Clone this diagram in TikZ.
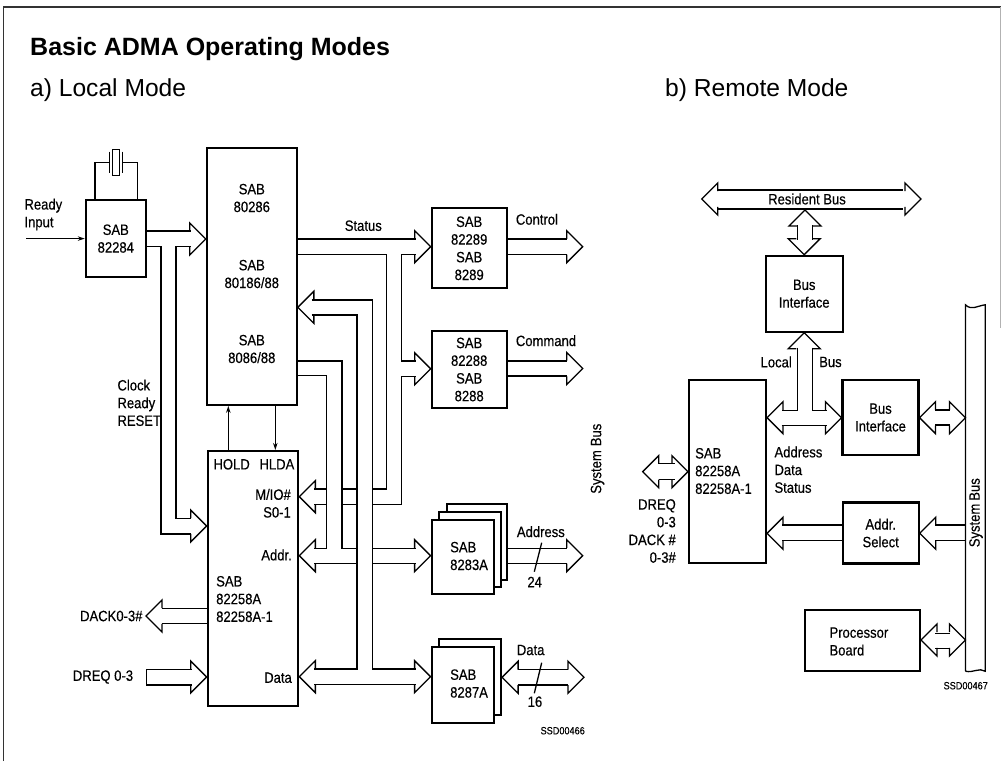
\documentclass[tikz,border=0pt]{standalone}
\usepackage{fontspec}
\setmainfont{Liberation Sans}
\newfontfamily\din[FakeStretch=0.87,FakeBold=0.35]{Liberation Sans}
\usetikzlibrary{arrows.meta,calc}

\begin{document}
\begin{tikzpicture}[
  x=10pt, y=10pt,
  font=\din\fontsize{15}{17.7}\selectfont,
  box/.style={draw, line width=2.1pt, fill=white, inner sep=0pt, align=center},
  lbl/.style={inner sep=0pt, align=left},
  small/.style={inner sep=0pt, font=\din\fontsize{10.5}{12}\selectfont},
  head/.style={font=\fontsize{24.6}{28}\selectfont, inner sep=0pt, anchor=base west},
  wire/.style={line width=1.3pt, line join=miter},
  bushead/.pic={\draw[wire] (-1.6,0.78) -- (-1.6,1.6) -- (0,0) -- (-1.6,-1.6) -- (-1.6,-0.78);},
  >={Stealth[length=7pt,width=4.5pt]}
]
\useasboundingbox (0,0) rectangle (100.1,-76.1);

% Frame
\draw[line width=1.4pt, black!80] (0.35,-76.1) -- (0.35,-0.7) -- (100.05,-0.7);
\draw[line width=0.8pt, gray!60] (100.05,-0.7) -- (100.05,-32.8);

% Titles
\node[head, font=\bfseries\fontsize{25}{28}\selectfont] (title) at (3,-5.5) {Basic ADMA Operating Modes};
\node[head] (local) at (3,-9.67) {a) Local Mode};
\node[head] (remote) at (66.5,-9.67) {b) Remote Mode};

% Local mode blocks
\node[box, minimum width=60pt, minimum height=77pt] (clk) at (11.58,-23.86) {SAB\\82284};
\node[box, minimum width=90pt, minimum height=257pt] (cpu) at (25.18,-27.63) {};
\node[lbl, align=center] (cpu1) at (25.18,-19.8) {SAB\\80286};
\node[lbl, align=center] (cpu2) at (25.18,-27.4) {SAB\\80186/88};
\node[lbl, align=center] (cpu3) at (25.18,-34.9) {SAB\\8086/88};
\node[box, minimum width=90.6pt, minimum height=255pt] (dma) at (25.3,-57.85) {};
\node[box, minimum width=75pt, minimum height=80pt] (ctrl) at (46.92,-24.83) {SAB\\82289\\SAB\\8289};
\node[box, minimum width=75pt, minimum height=77.6pt] (cmd) at (46.92,-36.95) {SAB\\82288\\SAB\\8288};

% Latches and transceivers
\node[box, minimum width=60.6pt, minimum height=76pt] (addr3) at (47.7,-54.2) {};
\node[box, minimum width=61.7pt, minimum height=75pt] (addr2) at (47.02,-54.92) {};
\node[box, minimum width=62.3pt, minimum height=74pt] (addr1) at (46.28,-55.7) {};
\node[lbl, anchor=west] (addr1t) at (45,-55.6) {SAB\\8283A};
\node[box, minimum width=61.7pt, minimum height=76pt] (data2) at (47.02,-67.7) {};
\node[box, minimum width=62.3pt, minimum height=75.4pt] (data1) at (46.28,-68.5) {};
\node[lbl, anchor=west] (data1t) at (45,-68.35) {SAB\\8287A};

% Labels, local mode
\node[lbl, anchor=west] (rdy) at (2.43,-21.45) {Ready\\Input};
\node[lbl, anchor=west] (crr) at (11.73,-40.28) {Clock\\Ready\\RESET};
\node[lbl] (status) at (36.33,-22.57) {Status};
\node[lbl, anchor=west] (control) at (51.57,-21.93) {Control};
\node[lbl, anchor=west] (command) at (51.57,-34.07) {Command};
\node[lbl, anchor=west] (address) at (51.67,-53.17) {Address};
\node[lbl, anchor=west] (datat) at (51.67,-65) {Data};
\node[lbl] (n24) at (53.47,-58.2) {24};
\node[lbl] (n16) at (53.5,-70.17) {16};
\node[lbl, anchor=west] (hold) at (21.33,-46.43) {HOLD};
\node[lbl, anchor=west] (hlda) at (25.93,-46.43) {HLDA};
\node[lbl, anchor=east, align=right] (mio) at (29.1,-50.33) {M/IO\#\\S0-1};
\node[lbl, anchor=east] (addrp) at (29.2,-55.5) {Addr.};
\node[lbl, anchor=west] (dmat) at (21.6,-59.9) {SAB\\82258A\\82258A-1};
\node[lbl, anchor=east] (datap) at (29.2,-67.77) {Data};
\node[lbl, anchor=east] (dack) at (14.27,-61.6) {DACK0-3\#};
\node[lbl, anchor=west] (dreq) at (7.27,-67.7) {DREQ 0-3};
\node[small, anchor=east] (ssda) at (58.5,-73.07) {SSD00466};
\node[lbl, rotate=90] (sysl) at (59.75,-45.87) {System\hspace{4pt}Bus};

% Crystal
\node[draw, line width=1.3pt, minimum width=6.6pt, minimum height=26pt, inner sep=0pt] (xtal) at (11.6,-16.23) {};
\coordinate (xl) at (10.93,-16.23);
\coordinate (xr) at (12.27,-16.23);
\draw[wire] (xl) ++(0,1.08) -- ++(0,-2.16);
\draw[wire] (xr) ++(0,1.08) -- ++(0,-2.16);
\draw[wire] (clk.north -| 9.5,0) |- (xl);
\draw[wire] (clk.north -| 13.73,0) |- (xr);
\coordinate (rdyin) at (2.6,-23.86);
\draw[wire, ->] (rdyin) -- (clk.west);

% Clock bus
\draw[wire] (clk.east |- 0,-23.1) -- (19.07,-23.1);
\draw[wire] (clk.east |- 0,-24.67) -- (16.1,-24.67) |- (19.07,-53.4);
\draw[wire] (19.07,-24.67) -- (17.6,-24.67) |- (19.07,-51.83);
\pic at (cpu.west |- 0,-23.9) {bushead};
\pic at (dma.west |- 0,-52.6) {bushead};

% Hold / hlda
\draw[wire, ->] (dma.north -| 22.83,0) -- (cpu.south -| 22.83,0);
\draw[wire, ->] (cpu.south -| 27.53,0) -- (dma.north -| 27.53,0);

% Status bus
\draw[wire] (cpu.east |- 0,-23.9) -- (41.57,-23.9);
\draw[wire] (cpu.east |- 0,-25.43) -- (38.65,-25.43) -- (38.65,-48.9) -- (37.23,-48.9);
\draw[wire] (41.57,-25.43) -- (40.17,-25.43) -- (40.17,-36.1) -- (41.57,-36.1);
\draw[wire] (41.57,-37.67) -- (40.17,-37.67) -- (40.17,-50.43) -- (37.23,-50.43);
\pic at (ctrl.west |- 0,-24.67) {bushead};
\pic at (cmd.west |- 0,-36.88) {bushead};

% M/IO bus
\draw[wire] (31.4,-48.9) -- (32.67,-48.9);
\draw[wire] (34.2,-48.9) -- (35.67,-48.9);
\draw[wire] (31.4,-50.43) -- (32.67,-50.43);
\draw[wire] (34.2,-50.43) -- (35.67,-50.43);
\pic[rotate=180] at (dma.east |- 0,-49.67) {bushead};

% Data bus
\draw[wire] (31.17,-30) -- (37.23,-30) -- (37.23,-66.9) -- (41.57,-66.9);
\draw[wire] (31.17,-31.5) -- (35.7,-31.5) -- (35.7,-66.9) -- (31.4,-66.9);
\draw[wire] (31.4,-68.43) -- (41.57,-68.43);
\pic[rotate=180] at (cpu.east |- 0,-30.73) {bushead};
\pic[rotate=180] at (dma.east |- 0,-67.67) {bushead};
\pic at (data1.west |- 0,-67.67) {bushead};

% Address bus
\draw[wire] (cpu.east |- 0,-36.1) -- (34.2,-36.1) -- (34.2,-54.83) -- (35.7,-54.83);
\draw[wire] (cpu.east |- 0,-37.57) -- (32.67,-37.57) -- (32.67,-54.83) -- (31.4,-54.83);
\draw[wire] (37.23,-54.83) -- (41.57,-54.83);
\draw[wire] (31.4,-56.33) -- (35.7,-56.33);
\draw[wire] (37.23,-56.33) -- (41.57,-56.33);
\pic[rotate=180] at (dma.east |- 0,-55.57) {bushead};
\pic at (addr1.west |- 0,-55.57) {bushead};

% Buses to the system side
\draw[wire] (ctrl.east |- 0,-23.9) -- (56.67,-23.9);
\draw[wire] (ctrl.east |- 0,-25.43) -- (56.67,-25.43);
\pic at (58.27,-24.67) {bushead};
\draw[wire] (cmd.east |- 0,-36.1) -- (56.67,-36.1);
\draw[wire] (cmd.east |- 0,-37.6) -- (56.67,-37.6);
\pic at (58.27,-36.85) {bushead};
\draw[wire] (addr3.east |- 0,-54.83) -- (56.67,-54.83);
\draw[wire] (addr3.east |- 0,-56.33) -- (56.67,-56.33);
\pic at (58.27,-55.57) {bushead};
\draw[wire] (54.17,-54.27) -- (53.43,-57.17);
\draw[wire] (51.75,-66.93) -- (56.8,-66.93);
\draw[wire] (51.75,-68.5) -- (56.8,-68.5);
\pic at (58.4,-67.73) {bushead};
\pic[rotate=180] at (data2.east |- 0,-67.73) {bushead};
\draw[wire] (54.17,-66.27) -- (53.43,-69.33);

% DACK and DREQ
\draw[wire] (dma.west |- 0,-60.83) -- (16.17,-60.83);
\draw[wire] (dma.west |- 0,-62.33) -- (16.17,-62.33);
\pic[rotate=180] at (14.6,-61.6) {bushead};
\draw[wire] (19.17,-66.93) -- (14.67,-66.93) -- (14.67,-68.5) -- (19.17,-68.5);
\pic at (dma.west |- 0,-67.7) {bushead};

% Remote mode blocks
\node[box, minimum width=77pt, minimum height=76pt] (ifa) at (80.42,-29.37) {Bus\\Interface};
\node[box, minimum width=77pt, minimum height=183pt] (adma) at (72.75,-47.17) {};
\node[box, minimum width=76pt, minimum height=75pt] (ifb) at (88.05,-41.75) {Bus\\Interface};
\node[box, minimum width=76pt, minimum height=61pt] (sel) at (88.07,-53.3) {Addr.\\Select};
\node[box, minimum width=115pt, minimum height=61pt] (proc) at (86.25,-64.05) {};
\node[minimum width=19.3pt, minimum height=366pt, inner sep=0pt] (sysb) at (97.53,-48.8) {};
\draw[wire] (sysb.south west) -- (sysb.north west) .. controls ($(sysb.north west)+(0.6,-0.6)$) and ($(sysb.north west)+(1.2,-0.1)$) .. (sysb.north east) -- (sysb.south east) .. controls ($(sysb.south east)+(-0.6,0.4)$) and ($(sysb.south east)+(-1.2,-0.2)$) .. (sysb.south west);

% Labels, remote mode
\node[lbl, anchor=west] (admat) at (69.5,-47.1) {SAB\\82258A\\82258A-1};
\node[lbl, anchor=west] (ads) at (77.43,-46.97) {Address\\Data\\Status};
\node[lbl, anchor=east, align=right] (dr) at (67.6,-53.1) {DREQ\\0-3\\DACK \#\\0-3\#};
\node[lbl, anchor=east] (lb) at (79.2,-36.2) {Local};
\node[lbl, anchor=west] (bb) at (81.9,-36.2) {Bus};
\node[lbl, anchor=west] (proct) at (82.93,-64.15) {Processor\\Board};
\node[lbl] (resbus) at (80.7,-19.9) {Resident Bus};
\node[lbl, rotate=90] (sysr) at (97.6,-51.27) {System\hspace{3pt}Bus};
\node[small, anchor=east] (ssdb) at (98.8,-68.57) {SSD00467};

% Resident bus
\coordinate (resl) at (70.17,-19.9);
\coordinate (resr) at (92.1,-19.9);
\draw[wire] (71.83,-19) -- (90.33,-19);
\draw[wire] (71.83,-20.9) -- (90.33,-20.9);
\pic at (resr) {bushead};
\pic[rotate=180] at (resl) {bushead};

% Resident bus to bus interface
\draw[wire] (79.73,-22.5) -- (79.73,-24);
\draw[wire] (81.27,-22.5) -- (81.27,-24);
\pic[rotate=90] at (80.5,-21) {bushead};
\pic[rotate=-90] at (ifa.north) {bushead};

% Local bus
\pic[rotate=90] at (ifa.south) {bushead};
\draw[wire] (79.73,-34.77) -- (79.73,-41.07) -- (78.17,-41.07);
\draw[wire] (81.27,-34.77) -- (81.27,-41.07) -- (82.73,-41.07);
\draw[wire] (78.17,-42.57) -- (82.73,-42.57);
\pic[rotate=180] at (adma.east |- 0,-41.77) {bushead};
\pic at (ifb.west |- 0,-41.77) {bushead};

% Into the system bus
\draw[wire] (93.5,-41) -- (95,-41);
\draw[wire] (93.5,-42.5) -- (95,-42.5);
\pic[rotate=180] at (ifb.east |- 0,-41.77) {bushead};
\pic at (sysb.west |- 0,-41.77) {bushead};
\draw[wire] (sel.west |- 0,-52.5) -- (78.23,-52.5);
\draw[wire] (sel.west |- 0,-54.07) -- (78.23,-54.07);
\pic[rotate=180] at (adma.east |- 0,-53.33) {bushead};
\draw[wire] (sysb.west |- 0,-52.5) -- (93.5,-52.5);
\draw[wire] (sysb.west |- 0,-54.07) -- (93.5,-54.07);
\pic[rotate=180] at (sel.east |- 0,-53.33) {bushead};
\draw[wire] (93.5,-63.33) -- (95,-63.33);
\draw[wire] (93.5,-64.83) -- (95,-64.83);
\pic[rotate=180] at (proc.east |- 0,-64) {bushead};
\pic at (sysb.west |- 0,-64) {bushead};
\draw[wire] (65.93,-46.33) -- (67.5,-46.33);
\draw[wire] (65.93,-47.93) -- (67.5,-47.93);
\pic[rotate=180] at (64.27,-47.17) {bushead};
\pic at (adma.west |- 0,-47.17) {bushead};

\end{tikzpicture}
\end{document}
